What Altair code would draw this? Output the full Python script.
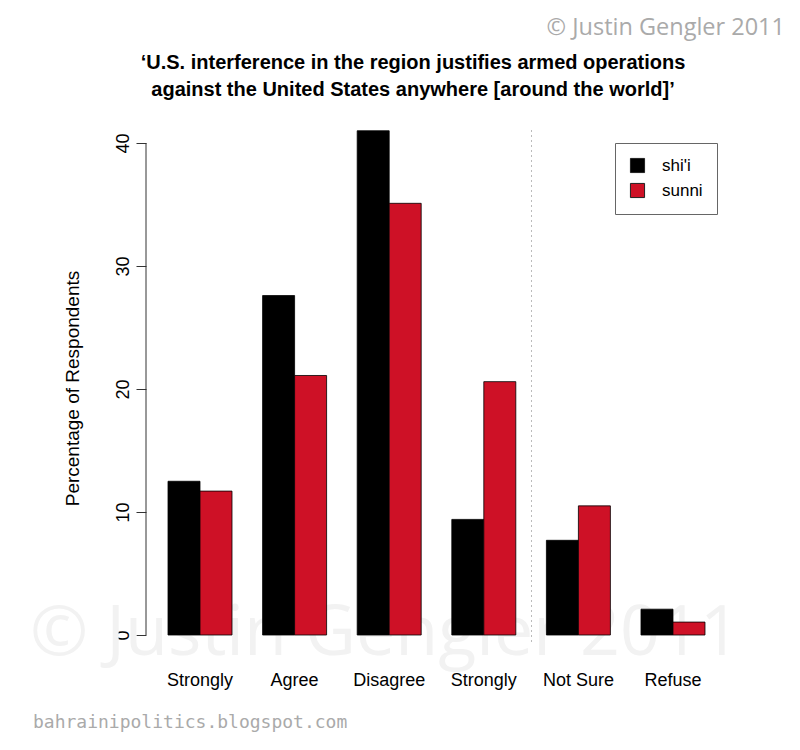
import altair as alt
import pandas as pd

categories = ["Strongly Agree", "Agree", "Disagree", "Strongly Disagree", "Not Sure", "Refuse"]
shia = [12.5, 27.6, 41.0, 9.4, 7.7, 2.1]
sunni = [11.7, 21.1, 35.1, 20.6, 10.5, 1.05]
series = ["shi'i", "sunni"]
y_ticks = [0, 10, 20, 30, 40]

rows = []
for c, a, b in zip(categories, shia, sunni):
    rows.append({"cat": c, "group": series[0], "pct": a})
    rows.append({"cat": c, "group": series[1], "pct": b})
df = pd.DataFrame(rows)

W, H = 581, 504
ydom = [0, 40.98]

base = alt.Chart(df)

label_expr = "indexof(datum.label, 'Strongly') == 0 ? 'Strongly' : datum.label"

watermark = alt.Chart(pd.DataFrame({"t": ["\u00a9 Justin Gengler 2011"]})).mark_text(
    font="Open Sans", fontSize=70, color="#F2F2F2", align="center", baseline="alphabetic"
).encode(text="t:N", x=alt.value(239), y=alt.value(524))

bars = base.mark_bar(stroke="#000", strokeWidth=0.8).encode(
    x=alt.X("cat:N", sort=categories,
            scale=alt.Scale(paddingInner=0.3235, paddingOuter=0.2326),
            axis=alt.Axis(title=None, labelExpr=label_expr, domain=False, ticks=False,
                          labelAngle=0, labelFontSize=18, labelFont="Liberation Sans",
                          labelColor="#000", labelPadding=36)),
    xOffset=alt.XOffset("group:N", sort=series),
    y=alt.Y("pct:Q", scale=alt.Scale(domain=ydom, nice=False, zero=True),
            axis=alt.Axis(values=y_ticks, domain=False, grid=False, tickSize=10,
                          tickColor="#333", tickWidth=1, labelAngle=270, labelFontSize=18,
                          labelFont="Liberation Sans", labelColor="#000", labelPadding=4,
                          labelAlign="center", labelBaseline="bottom",
                          title="Percentage of Respondents", titleFontSize=19,
                          titleFont="Liberation Sans", titleFontWeight="normal",
                          titleColor="#000", titleAngle=270, titleX=-74, titleY=257,
                          titleAlign="center", titleBaseline="middle")),
    color=alt.Color("group:N", sort=series,
                    scale=alt.Scale(domain=series, range=["#000000", "#CE1126"]),
                    legend=alt.Legend(title=None, orient="none", legendX=469, legendY=12,
                                      fillColor="#fff", strokeColor="#666", padding=14,
                                      symbolType="square", symbolSize=200,
                                      symbolStrokeColor="#222", symbolStrokeWidth=1,
                                      labelFontSize=17, labelFont="Liberation Sans",
                                      labelColor="#000", labelOffset=16, rowPadding=6)),
)

axis_line = alt.Chart(pd.DataFrame({"a": [0], "b": [40]})).mark_rule(color="#333", strokeWidth=1).encode(
    x=alt.value(0), y=alt.Y("a:Q", scale=alt.Scale(domain=ydom, nice=False)), y2="b:Q"
)

divider = alt.Chart(pd.DataFrame({"a": [0]})).mark_rule(
    color="#BBBBBB", strokeWidth=1, strokeDash=[2, 3]
).encode(x=alt.value(385.5), y=alt.value(-1), y2=alt.value(512))

title = alt.Chart(pd.DataFrame({"a": [0]})).mark_text(
    font="Liberation Sans", fontSize=20, fontWeight="bold", color="#000",
    align="center", baseline="alphabetic", lineHeight=27
).encode(
    x=alt.value(267), y=alt.value(-62),
    text=alt.value(["\u2018U.S. interference in the region justifies armed operations",
                    "against the United States anywhere [around the world]\u2019"]),
)

copyright_top = alt.Chart(pd.DataFrame({"t": ["\u00a9 Justin Gengler 2011"]})).mark_text(
    font="Open Sans", fontSize=23.5, color="#AAAAAA", align="right", baseline="alphabetic"
).encode(text="t:N", x=alt.value(639), y=alt.value(-96))

url = alt.Chart(pd.DataFrame({"t": ["bahrainipolitics.blogspot.com"]})).mark_text(
    font="DejaVu Sans Mono", fontSize=18, color="#AAAAAA", align="left", baseline="alphabetic"
).encode(text="t:N", x=alt.value(-113), y=alt.value(597))

chart = alt.layer(watermark, divider, bars, axis_line, title, copyright_top, url).properties(
    width=W, height=H,
    background="#ffffff",
    autosize=alt.AutoSizeParams(type="none"),
    padding={"left": 138, "top": 123, "right": 65, "bottom": 107},
).configure_view(strokeWidth=0, stroke=None)

chart.save("out.html", embed_options={"renderer": "svg", "actions": False})
